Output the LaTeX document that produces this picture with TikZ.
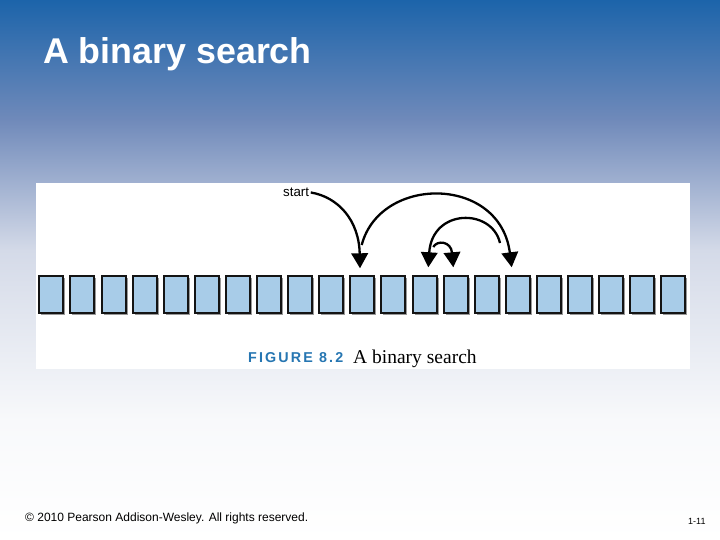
\documentclass[tikz,border=0pt]{standalone}
\usepackage{fontspec}
\setmainfont{Liberation Sans}
\newfontfamily\serifcap{Liberation Serif}
\newfontfamily\figfont[LetterSpace=15]{Liberation Sans Bold}
\usetikzlibrary{arrows.meta,shadows}
\definecolor{bgtop}{RGB}{28,100,170}
\definecolor{bgmidA}{RGB}{112,138,186}
\definecolor{bgmidB}{RGB}{212,218,232}
\definecolor{bglow}{RGB}{248,249,251}
\definecolor{cellfill}{RGB}{168,204,232}
\definecolor{figblue}{RGB}{38,118,178}
\tikzset{
  cell/.style={draw=black!92,line width=2pt,fill=cellfill,minimum width=24pt,minimum height=37.5pt,inner sep=0pt,
    drop shadow={shadow xshift=2pt,shadow yshift=-2pt,fill=black!40,opacity=1}},
  jump/.style={line width=2.3pt,-{Triangle[length=15pt,width=16.5pt]}},
}
\begin{document}
\begin{tikzpicture}[x=1pt,y=-1pt]
\useasboundingbox (0,0) rectangle (720,540);
% background
\shade[top color=bgtop,bottom color=bgmidA] (0,0) rectangle (720,120.5);
\shade[top color=bgmidA,bottom color=bgmidB] (0,120) rectangle (720,250.5);
\shade[top color=bgmidB,bottom color=bglow] (0,250) rectangle (720,420.5);
\shade[top color=bglow,bottom color=white] (0,420) rectangle (720,540);
% panel
\fill[white] (36,183.3) rectangle (690,369);
% title
\node[anchor=base west,inner sep=0pt,text=white,font=\fontsize{35.8}{40}\selectfont\bfseries] (title) at (43,63.3) {A binary search};
% cells
\foreach \i in {0,...,20}{
  \node[cell] (b\i) at ({51.3+31.1*\i},294.25) {};
}
% start label
\node[anchor=base west,inner sep=1.5pt,font=\fontsize{13.3}{15}\selectfont] (start) at (281.5,196.7) {start};
% arrow end points
\coordinate (t1) at (360,268.3);
\coordinate (s2) at (361.7,245);
\coordinate (t2) at (511.7,267.3);
\coordinate (s3) at (500,243);
\coordinate (t3) at (428.3,267.3);
\coordinate (s4) at (433.3,247);
\coordinate (t4) at (453.3,267.3);
\draw[jump] (start.east) .. controls (338,197) and (359,220) .. (t1);
\draw[jump] (s2) .. controls (380,175) and (500,175) .. (t2);
\draw[jump] (s3) .. controls (492,208) and (432,208) .. (t3);
\draw[jump] (s4) .. controls (437,240) and (451,241) .. (t4);
% caption
\node[anchor=base west,inner sep=0pt,text=figblue,font=\fontsize{14.3}{16}\selectfont\figfont] (figlab) at (248,362.7) {FIGURE 8.2};
\node[anchor=base west,inner sep=0pt,font=\fontsize{19.5}{22}\selectfont\serifcap] (figtxt) at (353,363.3) {A binary search};
% footer
\node[anchor=base west,inner sep=0pt,font=\fontsize{12}{14}\selectfont] (copy) at (25,521.5) {\textcopyright{} 2010 Pearson Addison-Wesley. All rights reserved.};
\node[anchor=base west,inner sep=0pt,font=\fontsize{9}{11}\selectfont] (pg) at (688,524.5) {1-11};
\end{tikzpicture}
\end{document}
